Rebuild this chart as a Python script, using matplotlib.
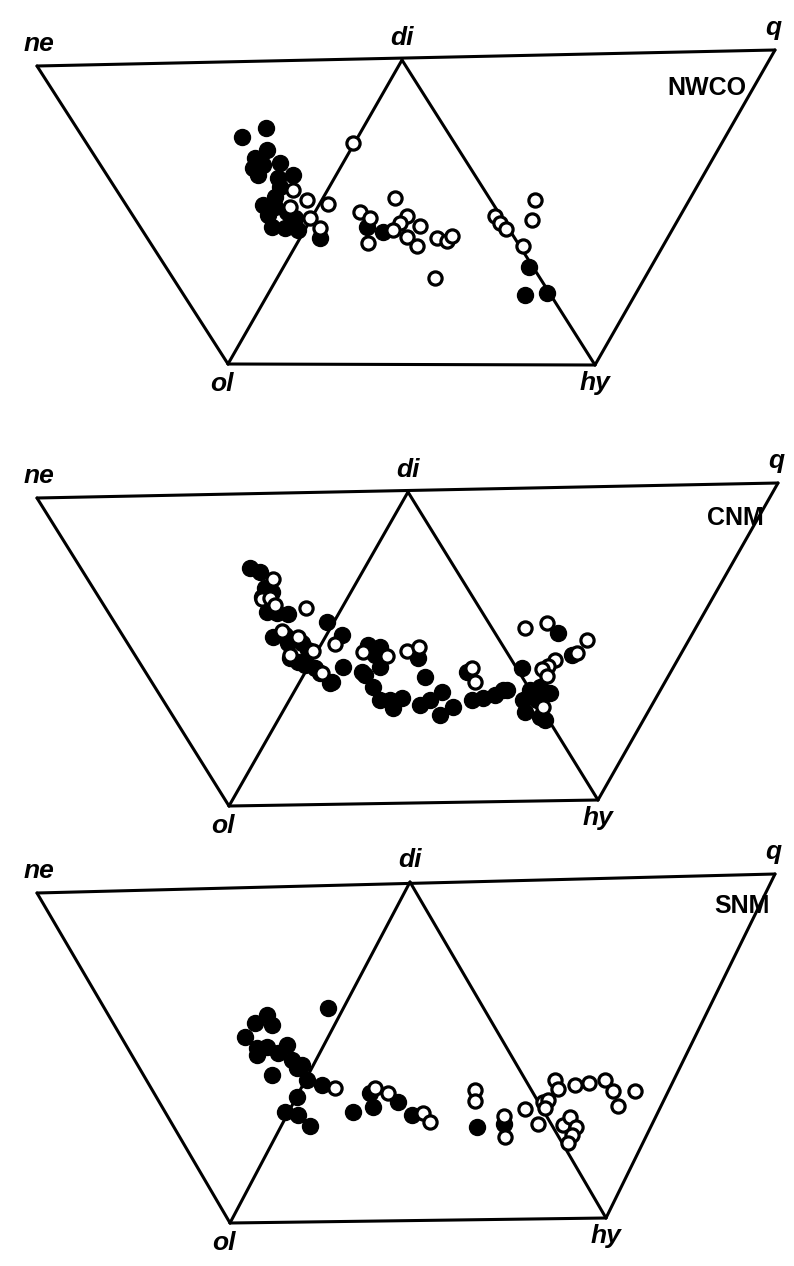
import numpy as np
import matplotlib.pyplot as plt

plt.rcParams['font.family'] = ['Liberation Sans', 'DejaVu Sans']

# page coordinates (pixels)
# corners of each ne-di-q / ol-hy diagram
NWCO_CORNERS = {"ne": (37, 66), "di": (402, 60), "q": (775, 50), "ol": (228, 364), "hy": (595, 365)}
CNM_CORNERS = {"ne": (37, 498), "di": (408, 492), "q": (778, 483), "ol": (229, 806), "hy": (598, 800)}
SNM_CORNERS = {"ne": (37, 893), "di": (410, 882), "q": (775, 874), "ol": (230, 1223), "hy": (606, 1218)}

NWCO_FILLED = [(242, 137), (266, 128), (267, 150), (255, 158), (253, 168), (263, 165), (280, 163),
               (258, 175), (278, 178), (293, 175), (280, 187), (275, 197), (263, 205), (275, 207),
               (268, 215), (287, 212), (272, 227), (295, 218), (285, 228), (298, 230), (320, 238),
               (367, 227), (383, 232), (529, 267), (525, 295), (547, 293)]
NWCO_OPEN = [(353, 143), (293, 190), (307, 200), (290, 207), (328, 204), (310, 218), (320, 228),
             (360, 212), (370, 218), (395, 198), (407, 216), (400, 223), (420, 226), (393, 230),
             (407, 237), (417, 246), (368, 243), (437, 238), (447, 241), (452, 236), (435, 278),
             (535, 200), (532, 220), (495, 216), (500, 223), (506, 229), (523, 246)]

CNM_FILLED = [(250, 568), (260, 572), (265, 588), (262, 597), (272, 592), (267, 612), (277, 613),
              (288, 614), (327, 622), (273, 637), (285, 635), (288, 643), (302, 643), (308, 650),
              (290, 658), (298, 662), (305, 665), (315, 668), (320, 673), (332, 682), (342, 635),
              (343, 667), (362, 672), (368, 645), (380, 647), (375, 655), (380, 667), (365, 675),
              (373, 687), (380, 700), (390, 700), (402, 698), (393, 708), (425, 677), (420, 705),
              (430, 700), (442, 692), (440, 715), (453, 707), (467, 672), (472, 700), (483, 698),
              (495, 695), (507, 690), (522, 668), (558, 633), (572, 655), (530, 690), (540, 687),
              (550, 693), (523, 700), (537, 700), (525, 712), (540, 717), (545, 720), (503, 690),
              (330, 683), (418, 658)]
CNM_OPEN = [(273, 579), (262, 599), (270, 598), (275, 605), (306, 608), (282, 631), (298, 637),
            (313, 651), (290, 655), (335, 644), (322, 673), (363, 652), (387, 656), (407, 651),
            (419, 647), (472, 668), (475, 682), (525, 628), (547, 623), (587, 640), (577, 653),
            (555, 660), (548, 666), (542, 669), (547, 676), (543, 707)]

SNM_FILLED = [(328, 1008), (267, 1015), (255, 1023), (272, 1025), (245, 1037), (257, 1048),
              (267, 1047), (257, 1055), (287, 1045), (278, 1053), (292, 1060), (302, 1065),
              (297, 1068), (272, 1075), (307, 1080), (297, 1097), (285, 1112), (298, 1115),
              (310, 1126), (322, 1085), (353, 1112), (370, 1093), (373, 1107), (398, 1102),
              (412, 1115), (477, 1127), (504, 1124)]
SNM_OPEN = [(335, 1088), (375, 1088), (388, 1093), (423, 1113), (430, 1122), (475, 1090),
            (475, 1101), (504, 1116), (505, 1137), (525, 1109), (538, 1124), (543, 1102),
            (548, 1100), (545, 1108), (555, 1080), (558, 1089), (575, 1085), (589, 1083),
            (605, 1080), (613, 1091), (618, 1106), (635, 1091), (563, 1125), (570, 1117),
            (576, 1127), (572, 1135), (568, 1143)]

PANEL_NAMES = ["NWCO", "CNM", "SNM"]
NAME_POS = [(746, 88), (764, 518), (770, 906)]


def draw_panel(ax, c, filled, hollow, name, name_pos):
    lw = 2.2
    for a, b in [("ne", "q"), ("ne", "ol"), ("ol", "hy"), ("hy", "q"), ("di", "ol"), ("di", "hy")]:
        ax.plot([c[a][0], c[b][0]], [c[a][1], c[b][1]], color="black", lw=lw,
                solid_capstyle="round", zorder=1)

    f = np.array(filled)
    o = np.array(hollow)
    ax.plot(f[:, 0], f[:, 1], "o", ms=11.5, color="black", mec="black", zorder=2)
    ax.plot(o[:, 0], o[:, 1], "o", ms=9.5, mfc="white", mec="black", mew=2.3, zorder=3)

    lab = dict(fontsize=19, fontweight="bold", fontstyle="italic", ha="center", va="bottom")
    ax.text(c["ne"][0] + 2, c["ne"][1] - 10, "ne", **lab)
    ax.text(c["di"][0], c["di"][1] - 10, "di", **lab)
    ax.text(c["q"][0] - 2, c["q"][1] - 10, "q", **lab)
    lab["va"] = "top"
    ax.text(c["ol"][0] - 6, c["ol"][1] + 8, "ol", **lab)
    ax.text(c["hy"][0], c["hy"][1] + 6, "hy", **lab)
    ax.text(name_pos[0], name_pos[1], name, fontsize=18, fontweight="bold",
            ha="right", va="center")


fig = plt.figure(figsize=(7.94, 12.66), dpi=100)
ax = fig.add_axes([0, 0, 1, 1])
ax.set_xlim(0, 794)
ax.set_ylim(1266, 0)
ax.axis("off")

corners = [NWCO_CORNERS, CNM_CORNERS, SNM_CORNERS]
filled = [NWCO_FILLED, CNM_FILLED, SNM_FILLED]
hollow = [NWCO_OPEN, CNM_OPEN, SNM_OPEN]
for i in range(3):
    draw_panel(ax, corners[i], filled[i], hollow[i], PANEL_NAMES[i], NAME_POS[i])

fig.savefig("out.png", dpi=100)
